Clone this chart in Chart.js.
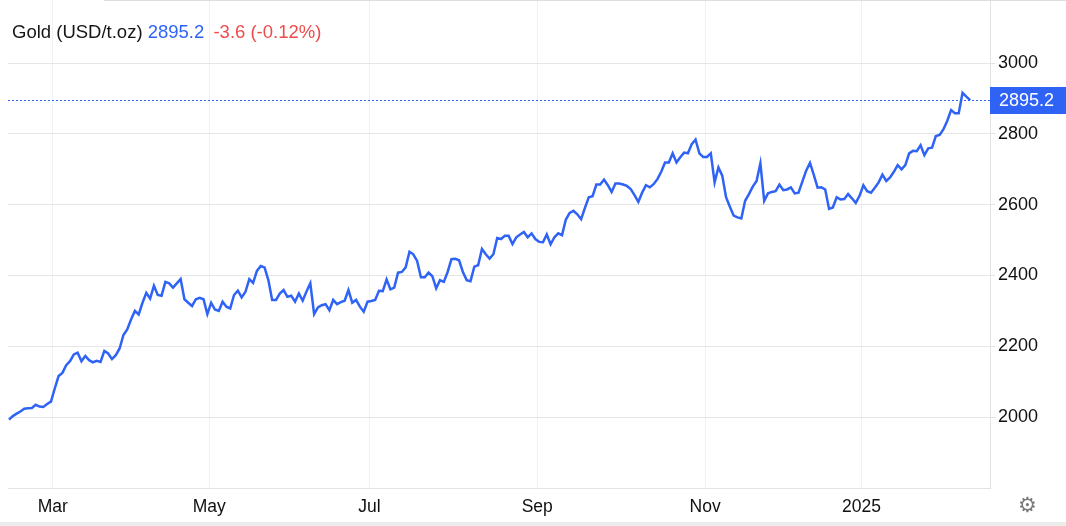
<!DOCTYPE html>
<html>
<head>
<meta charset="utf-8">
<script src="https://cdn.jsdelivr.net/npm/chart.js@4.4.1/dist/chart.umd.min.js"></script>
<style>
  html, body { margin: 0; padding: 0; background: #fff; }
  #wrap { position: relative; width: 1066px; height: 526px; overflow: hidden;
          font-family: "Liberation Sans", Arial, sans-serif; }
  #chart { position: absolute; left: 0; top: 0; }
  #title { position: absolute; left: 12px; top: 22px; font-size: 18.5px; line-height: 20px;
           color: #161616; white-space: nowrap; }
  #title .last { color: #2f63f6; }
  #title .chg { color: #ef4b4b; margin-left: 4px; }
  #gear { position: absolute; left: 1018px; top: 493px; font-size: 21px; line-height: 24px;
          color: #7a7a7a; font-family: "DejaVu Sans", sans-serif; }
  #topline { position: absolute; left: 104px; right: 0; top: 0; height: 1px; background: #dedede; }
  #bottomline { position: absolute; left: 0; right: 0; bottom: 0; height: 4px; background: #ececec; }
</style>
</head>
<body>
<div id="wrap">
  <canvas id="chart" width="1066" height="526"></canvas>
  <div id="topline"></div>
  <div id="title"></div>
  <div id="gear">&#9881;</div>
  <div id="bottomline"></div>
</div>
<script>
// ---------------------------------------------------------------------------
//  Gold (USD/t.oz) — giá đóng cửa hằng ngày, ~1 năm (giữa tháng 2/2024 → 2/2025)
//  Mỗi phần tử = 1 phiên giao dịch.
// ---------------------------------------------------------------------------
const seriesName = "Gold (USD/t.oz)";
const lastLabel = "2895.2";
const changeLabel = "-3.6 (-0.12%)";

const prices = [
  // giữa tháng 2 → hết tháng 2
  1993, 2003, 2010, 2016, 2024, 2025, 2026, 2035, 2030, 2029, 2037, 2044,
  // tháng 3
  2081, 2116, 2125, 2147, 2158, 2177, 2182, 2158, 2173, 2161, 2155, 2159, 2156, 2187, 2180, 2164, 2175, 2194,
  // tháng 4 → tháng 6
  2232, 2248, 2276, 2300, 2290, 2323, 2351, 2335, 2371, 2345,
  2343, 2382, 2378, 2366, 2378, 2390, 2333, 2323, 2314, 2333,
  2337, 2333, 2291, 2323, 2304, 2300, 2326, 2312, 2307, 2345,
  2357, 2338, 2354, 2390, 2379, 2413, 2427, 2423, 2387, 2331,
  2331, 2349, 2359, 2340, 2343, 2326, 2349, 2329, 2355, 2378,
  2291, 2310, 2316, 2319, 2302, 2331, 2319, 2325, 2329, 2359,
  2323, 2331, 2312, 2298, 2326, 2328, 2331, 2357, 2356, 2389,
  2361, 2366, 2408,
  // tháng 7 → tháng 8
  2410, 2423, 2467, 2460, 2441, 2395, 2395, 2408, 2398, 2364,
  2387, 2382, 2410, 2446, 2447, 2443, 2410, 2387, 2384, 2425,
  2429, 2475, 2460, 2448, 2460, 2506, 2503, 2512, 2512, 2489,
  2508, 2516, 2523, 2508, 2519, 2503, 2495, 2494, 2516, 2488,
  2508, 2519, 2514,
  // tháng 9 → tháng 11
  2558, 2577, 2583, 2573, 2559, 2591, 2621, 2624, 2657, 2657,
  2671, 2655, 2636, 2660, 2660, 2657, 2653, 2644, 2627, 2608,
  2634, 2655, 2649, 2658, 2672, 2693, 2719, 2719, 2745, 2719,
  2734, 2747, 2745, 2771, 2784, 2745, 2735, 2735, 2745, 2663,
  2705, 2682, 2621, 2594, 2569, 2564, 2561, 2611, 2630, 2651,
  2667, 2717, 2611, 2632, 2636, 2638, 2657, 2641, 2643, 2649,
  2632, 2634, 2665,
  // tháng 12 → tháng 2/2025
  2696, 2718, 2684, 2648, 2649, 2643, 2588, 2592, 2621, 2615,
  2616, 2630, 2618, 2605, 2625, 2655, 2638, 2634, 2648, 2663,
  2685, 2667, 2677, 2693, 2712, 2700, 2712, 2745, 2752, 2751,
  2768, 2740, 2759, 2761, 2794, 2797, 2813, 2837, 2867, 2858,
  2858, 2916, 2905, 2895.2
];

// Nhãn trục X: chỉ số phiên đầu tiên của mỗi tháng được ghi nhãn
const monthLabels = ["Mar", "May", "Jul", "Sep", "Nov", "2025"];
const monthStartIdx = [12, 53, 95, 139, 183, 224];

// Nhãn trục Y
const yTicks = [2000, 2200, 2400, 2600, 2800, 3000];

const BLUE = "#2f63f6";
const lastPrice = prices[prices.length - 1];

document.getElementById("title").innerHTML =
  seriesName + ' <span class="last">' + lastLabel + '</span> <span class="chg">' + changeLabel + "</span>";

// Đường chấm ngang tại giá cuối + hộp giá bên phải
const lastPricePlugin = {
  id: "lastPrice",
  beforeDatasetsDraw(chart) {
    const { ctx, chartArea, scales } = chart;
    const py = Math.round(scales.y.getPixelForValue(lastPrice)) + 0.5;
    ctx.save();
    ctx.strokeStyle = BLUE;
    ctx.lineWidth = 1;
    ctx.setLineDash([2, 2]);
    ctx.beginPath();
    ctx.moveTo(chartArea.left, py);
    ctx.lineTo(chartArea.right, py);
    ctx.stroke();
    ctx.restore();
  },
  afterDraw(chart) {
    const { ctx, chartArea, scales } = chart;
    const py = scales.y.getPixelForValue(lastPrice);
    ctx.save();
    ctx.fillStyle = BLUE;
    ctx.fillRect(chartArea.right, Math.round(py - 13.5), chart.width - chartArea.right, 27);
    ctx.fillStyle = "#ffffff";
    ctx.font = '18px "Liberation Sans", Arial, sans-serif';
    ctx.textBaseline = "middle";
    ctx.textAlign = "left";
    ctx.fillText(lastLabel, chartArea.right + 9, py + 1);
    ctx.restore();
  }
};

new Chart(document.getElementById("chart"), {
  type: "line",
  data: {
    datasets: [{
      label: seriesName,
      data: prices.map((v, i) => ({ x: i, y: v })),
      borderColor: BLUE,
      borderWidth: 2.5,
      pointRadius: 0,
      tension: 0,
      fill: false
    }]
  },
  options: {
    responsive: false,
    animation: false,
    layout: { padding: { left: 8, top: 0, right: 0, bottom: 0 } },
    plugins: { legend: { display: false }, tooltip: { enabled: false } },
    scales: {
      x: {
        type: "linear",
        min: -0.26,
        max: 257.2,
        afterBuildTicks(scale) {
          scale.ticks = monthStartIdx.map(i => ({ value: i - 0.5 })); // vạch giữa 2 tháng
        },
        afterFit(scale) {
          scale.height = 38;
          scale.paddingLeft = 0;
          scale.paddingRight = 0;
        },
        ticks: {
          autoSkip: false,
          maxRotation: 0,
          padding: 9,
          color: "#111",
          font: { family: '"Liberation Sans", Arial, sans-serif', size: 17.5 },
          callback: (v, idx) => monthLabels[idx]
        },
        grid: { color: "#eef1f6", drawTicks: false },
        border: { color: "#e3e3e3" }
      },
      y: {
        position: "right",
        min: 1800,
        max: 3178,
        afterBuildTicks(scale) {
          scale.ticks = yTicks.map(v => ({ value: v }));
        },
        afterFit(scale) {
          scale.width = 76;
          scale.paddingTop = 0;
          scale.paddingBottom = 0;
        },
        ticks: {
          padding: 3,
          color: "#111",
          font: { family: '"Liberation Sans", Arial, sans-serif', size: 18 },
          callback: v => String(v)
        },
        grid: { color: "#e6e6e6", tickLength: 5, tickColor: "#e3e3e3" },
        border: { color: "#e3e3e3" }
      }
    }
  },
  plugins: [lastPricePlugin]
});
</script>
</body>
</html>
